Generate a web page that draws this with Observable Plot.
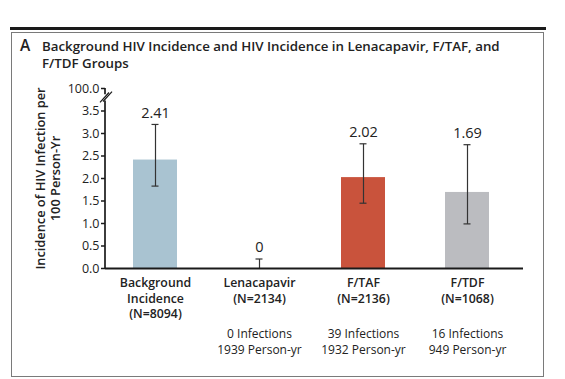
<!DOCTYPE html>
<html>
<head>
<meta charset="utf-8">
<script src="https://cdn.jsdelivr.net/npm/d3@7"></script>
<script src="https://cdn.jsdelivr.net/npm/@observablehq/plot@0.6"></script>
<style>
  html, body { margin: 0; padding: 0; background: #fff; }
  body { width: 565px; height: 379px; position: relative; overflow: hidden; font-family: "Open Sans", sans-serif; }
  #rule { position: absolute; left: 10px; top: 27px; width: 536px; height: 2.5px; background: #1a1a1a; }
  #box { position: absolute; left: 11px; top: 32px; width: 531px; height: 343px; border: 1.6px solid #7a7a7a; }
  #title { position: absolute; left: 20px; top: 38px; width: 520px; font-weight: 600; font-size: 13.3px; line-height: 17px; color: #222; }
  #title .a { position: absolute; left: 0; top: -1px; font-size: 15.5px; }
  #title .t { margin-left: 22px; }
  #chart { position: absolute; left: 0; top: 0; }
</style>
</head>
<body>
<div id="rule"></div>
<div id="box"></div>
<div id="title"><span class="a">A</span><div class="t">Background HIV Incidence and HIV Incidence in Lenacapavir, F/TAF, and<br>F/TDF Groups</div></div>
<div id="chart"></div>
<script>
const groups = ["Background", "Lenacapavir", "F/TAF", "F/TDF"];
const groupLabels = ["Background\nIncidence\n(N=8094)", "Lenacapavir\n(N=2134)", "F/TAF\n(N=2136)", "F/TDF\n(N=1068)"];
const infectionLabels = ["", "0 Infections\n1939 Person-yr", "39 Infections\n1932 Person-yr", "16 Infections\n949 Person-yr"];
const incidence = [2.41, 0, 2.02, 1.69];
const ciLow = [1.82, 0, 1.44, 0.98];
const ciHigh = [3.19, 0.2, 2.76, 2.74];
const valueLabels = ["2.41", "0", "2.02", "1.69"];
const barColors = ["#a9c3d1", "#ffffff", "#c9533c", "#bbbcc0"];
const yTicks = [0, 0.5, 1.0, 1.5, 2.0, 2.5, 3.0, 3.5, 4.0];
const yTickLabels = ["0.0", "0.5", "1.0", "1.5", "2.0", "2.5", "3.0", "3.5", "100.0"];
const yTitle = "Incidence of HIV Infection per\n100 Person-Yr";

const data = groups.map((g, i) => ({
  group: g, value: incidence[i], lo: ciLow[i], hi: ciHigh[i],
  label: valueLabels[i], color: barColors[i]
}));

// y-axis line with a scale break between 3.5 and 100.0
const breakMark = (index, scales, values, dimensions) => {
  const x0 = dimensions.marginLeft;
  const y = scales.y;
  const g = d3.create("svg:g").attr("stroke", "#1a1a1a").attr("fill", "none").attr("stroke-width", 1.7);
  g.append("line").attr("x1", x0).attr("x2", x0).attr("y1", y(0) + 1).attr("y2", y(3.72));
  g.append("line").attr("x1", x0).attr("x2", x0).attr("y1", y(4)).attr("y2", y(3.86));
  g.append("line").attr("stroke-width", 1.2).attr("x1", x0 - 5).attr("y1", y(3.68)).attr("x2", x0 + 4).attr("y2", y(3.9));
  g.append("line").attr("stroke-width", 1.2).attr("x1", x0 - 2).attr("y1", y(3.7)).attr("x2", x0 + 7).attr("y2", y(3.92));
  return g.node();
};

// error-bar caps, placed through the x and y scales
const capMark = (index, scales) => {
  const x = scales.x, y = scales.y;
  const bw = x.bandwidth ? x.bandwidth() : 0;
  const g = d3.create("svg:g").attr("stroke", "#333").attr("stroke-width", 1.2);
  for (const d of data) {
    const cx = x(d.group) + bw / 2;
    g.append("line").attr("x1", cx - 3.5).attr("x2", cx + 3.5).attr("y1", y(d.hi)).attr("y2", y(d.hi));
    if (d.lo > 0) g.append("line").attr("x1", cx - 3.5).attr("x2", cx + 3.5).attr("y1", y(d.lo)).attr("y2", y(d.lo));
  }
  return g.node();
};

const chart = Plot.plot({
  width: 565,
  height: 379,
  marginLeft: 105,
  marginRight: 42,
  marginTop: 88,
  marginBottom: 111,
  style: { fontFamily: "'Open Sans', sans-serif", color: "#222", background: "transparent" },
  x: { domain: groups, paddingInner: 0.58, paddingOuter: 0.29, insetLeft: -3, insetRight: 4 },
  y: { domain: [0, 4], ticks: yTicks },
  marks: [
    Plot.barY(data, { x: "group", y: "value", fill: "color" }),
    Plot.ruleX(data, { x: "group", y1: "lo", y2: "hi", stroke: "#333", strokeWidth: 1.2 }),
    capMark,
    Plot.text(data, { x: "group", y: "hi", text: "label", dy: -12, fontSize: 14.5, lineAnchor: "middle", fill: "#222" }),
    Plot.ruleY([0], { stroke: "#1a1a1a", strokeWidth: 2 }),
    breakMark,
    Plot.axisY({ ticks: yTicks, tickFormat: (d) => yTickLabels[yTicks.indexOf(d)], tickSize: 4, tickPadding: 2, fontSize: 12.5, label: null, stroke: "#1a1a1a", strokeWidth: 1.5 }),
    Plot.axisX({ tickSize: 0, tickPadding: 8, tickFormat: (d) => groupLabels[groups.indexOf(d)], fontSize: 12.3, fontWeight: 600, lineHeight: 1.25, label: null }),
    Plot.axisX({ tickSize: 0, tickPadding: 59, tickFormat: (d) => infectionLabels[groups.indexOf(d)], fontSize: 12, lineHeight: 1.27, label: null }),
    Plot.text([yTitle], { frameAnchor: "left", text: (d) => d, rotate: -90, dx: -58, fontSize: 12.8, fontWeight: 600, lineHeight: 1.15, lineAnchor: "middle", textAnchor: "middle", fill: "#222" })
  ]
});
document.getElementById("chart").appendChild(chart);
</script>
</body>
</html>
